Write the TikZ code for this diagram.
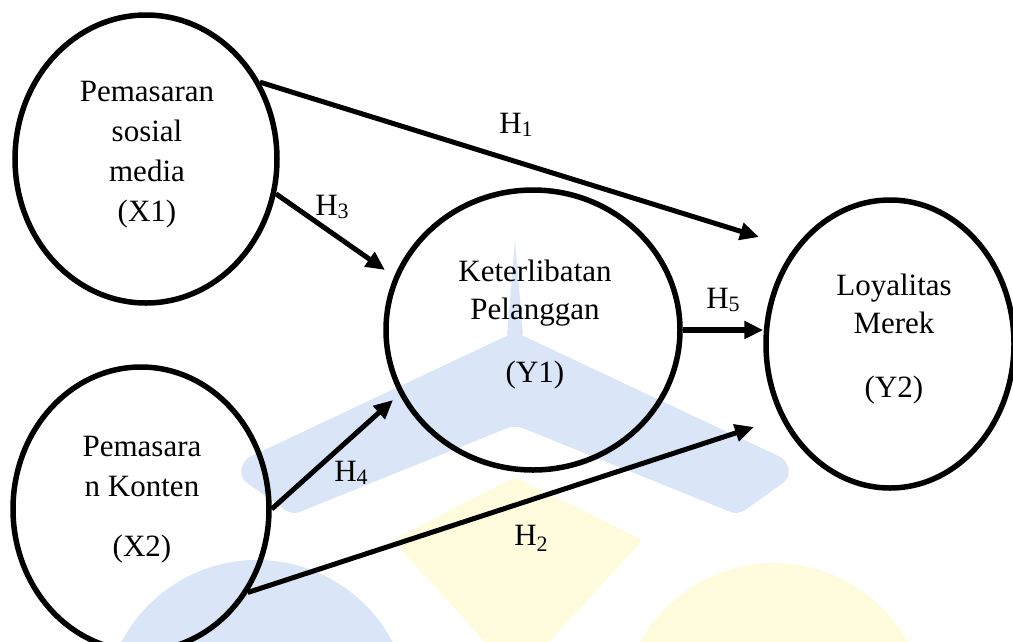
\documentclass[tikz,border=0pt]{standalone}
\usepackage{fontspec}
\setmainfont{Liberation Serif}
\usetikzlibrary{shapes.geometric,arrows.meta}
\definecolor{wmblue}{RGB}{218,230,248}
\definecolor{wmyellow}{RGB}{255,252,222}
\newcommand{\hsub}[2][3pt]{\raisebox{-#1}{\fontsize{22}{22}\selectfont #2}}
\begin{document}
\begin{tikzpicture}[x=1pt,y=-1pt,
  var/.style={ellipse, draw, line width=5.5pt, inner sep=0pt},
  lbl/.style={align=center, font=\fontsize{31}{40}\selectfont, inner sep=0pt},
  hyp/.style={font=\fontsize{31}{40}\selectfont, inner sep=0pt},
  arr/.style={line width=5pt, -{Triangle[length=19pt,width=17pt]}},
]
\useasboundingbox (0,0) rectangle (1013,641);
% faint watermark in the background
\begin{scope}
\clip (0,0) rectangle (1013,641);
\fill[wmblue] (257,713) circle (153pt);
\fill[wmyellow] (774,716) circle (153pt);
\fill[wmyellow, rounded corners=6pt] (515,477) -- (643,540) -- (517,677) -- (392,540) -- cycle;
\fill[wmblue, rounded corners=8pt] (515,332) -- (243,460) -- (240,478) -- (292,515) -- (515,425) -- (738,515) -- (790,478) -- (787,460) -- cycle;
\fill[wmblue] (515,240) -- (523,335) -- (507,335) -- cycle;
\end{scope}
% variables
\node[var, minimum width=262pt, minimum height=288pt] (x1) at (146,159) {};
\node[lbl] (x1t) at (147,155) {Pemasaran\\sosial\\media\\(X1)};
\node[var, minimum width=256pt, minimum height=284pt] (x2) at (141,509) {};
\node[lbl] (x2t) at (142,500) {Pemasara\\n Konten\\[20pt](X2)};
\node[var, minimum width=294pt, minimum height=280pt] (y1) at (533,330) {};
\node[lbl] (y1t) at (535,325) {Keterlibatan\\[-2pt]Pelanggan\\[23pt](Y1)};
\node[var, minimum width=248pt, minimum height=288pt] (y2) at (890,344) {};
\node[lbl] (y2t) at (894,339) {Loyalitas\\[-2pt]Merek\\[24pt](Y2)};
% arrow ends
\coordinate (h1e) at (759,237);
\coordinate (h3e) at (385,270);
\coordinate (h4e) at (393,400);
\coordinate (h2e) at (754,427);
% connectors
\draw[arr] (x1.34) -- (h1e);
\draw[arr] (x1.-15) -- (h3e);
\draw[arr] (x2.east) -- (h4e);
\draw[arr] (x2.-38) -- (h2e);
\draw[arr, line width=6pt] (y1.east) -- (y1.east -| y2.west);
% hypothesis labels
\node[hyp] (h1) at (516,125) {H\hsub{1}};
\node[hyp] (h3) at (332,207) {H\hsub{3}};
\node[hyp] (h5) at (723,300) {H\hsub{5}};
\node[hyp] (h4) at (351,473) {H\hsub{4}};
\node[hyp] (h2) at (531,538) {H\hsub[6pt]{2}};
\end{tikzpicture}
\end{document}
